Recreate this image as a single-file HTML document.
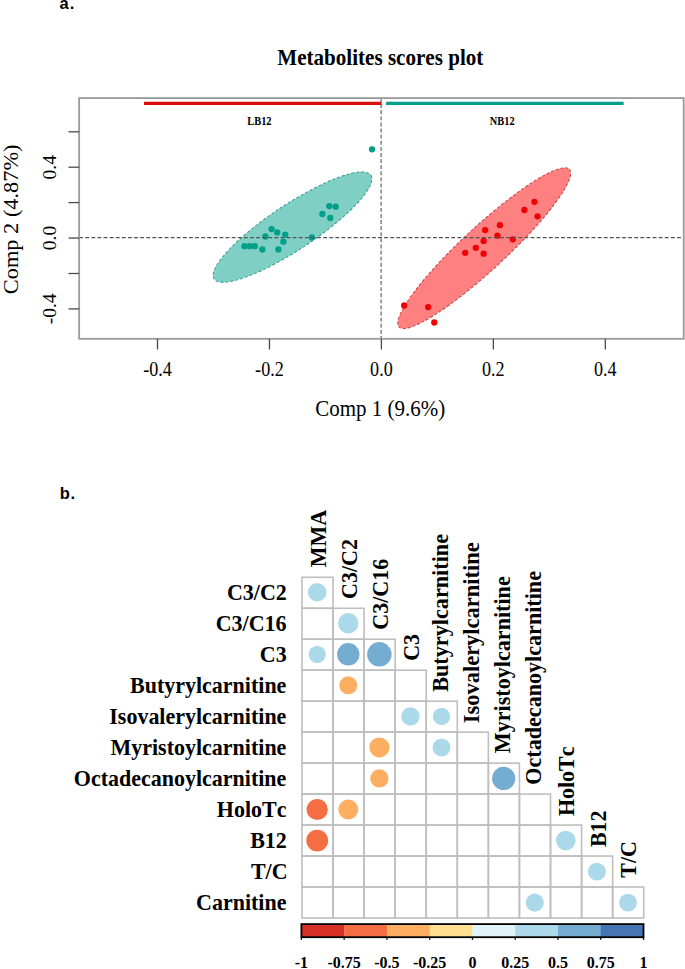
<!DOCTYPE html>
<html><head><meta charset="utf-8"><style>
html,body{margin:0;padding:0;background:#fff;}
svg{display:block;}
text{font-kerning:none;}
</style></head><body>
<svg width="685" height="969" viewBox="0 0 685 969">
<rect width="685" height="969" fill="#fff"/>
<text x="59.4" y="8.8" font-family='"Liberation Sans", sans-serif' font-weight="bold" font-size="16.5" letter-spacing="1.3">a.</text>
<text x="59.7" y="499" font-family='"Liberation Sans", sans-serif' font-weight="bold" font-size="16.5" letter-spacing="0.8">b.</text>
<text x="380.3" y="64.8" text-anchor="middle" font-family='"Liberation Serif", serif' font-weight="bold" font-size="21.1" transform="translate(0 64.8) scale(1 1.055) translate(0 -64.8)">Metabolites scores plot</text>
<ellipse cx="292.53" cy="227.12" rx="94.0" ry="22.57" transform="rotate(-33.45 292.53 227.12)" fill="#80CFC4" stroke="#2F9C8A" stroke-width="1" stroke-dasharray="3 2"/>
<ellipse cx="484.2" cy="248.18" rx="116.04" ry="21.58" transform="rotate(-42.77 484.2 248.18)" fill="#FF8080" stroke="#CC3E3E" stroke-width="1" stroke-dasharray="3 2"/>
<circle cx="372.03" cy="149.3" r="3.15" fill="#009F89"/>
<circle cx="329.3" cy="206.1" r="3.15" fill="#009F89"/>
<circle cx="335.7" cy="206.7" r="3.15" fill="#009F89"/>
<circle cx="322.4" cy="214" r="3.15" fill="#009F89"/>
<circle cx="330.3" cy="218" r="3.15" fill="#009F89"/>
<circle cx="271.6" cy="229.1" r="3.15" fill="#009F89"/>
<circle cx="277.2" cy="232.4" r="3.15" fill="#009F89"/>
<circle cx="285.2" cy="234.6" r="3.15" fill="#009F89"/>
<circle cx="265.4" cy="236.5" r="3.15" fill="#009F89"/>
<circle cx="311.9" cy="237.4" r="3.15" fill="#009F89"/>
<circle cx="283.4" cy="241.7" r="3.15" fill="#009F89"/>
<circle cx="244.5" cy="246.2" r="3.15" fill="#009F89"/>
<circle cx="249.7" cy="246.2" r="3.15" fill="#009F89"/>
<circle cx="254.8" cy="246.2" r="3.15" fill="#009F89"/>
<circle cx="262.4" cy="249.5" r="3.15" fill="#009F89"/>
<circle cx="278.4" cy="249.4" r="3.15" fill="#009F89"/>
<circle cx="534.5" cy="201.8" r="3.15" fill="#F00000"/>
<circle cx="524.4" cy="210" r="3.15" fill="#F00000"/>
<circle cx="537.5" cy="216.3" r="3.15" fill="#F00000"/>
<circle cx="499.9" cy="225.2" r="3.15" fill="#F00000"/>
<circle cx="485.2" cy="230.1" r="3.15" fill="#F00000"/>
<circle cx="497.4" cy="235.7" r="3.15" fill="#F00000"/>
<circle cx="512.8" cy="239.3" r="3.15" fill="#F00000"/>
<circle cx="483.6" cy="240.9" r="3.15" fill="#F00000"/>
<circle cx="475.8" cy="247.8" r="3.15" fill="#F00000"/>
<circle cx="465.2" cy="252.8" r="3.15" fill="#F00000"/>
<circle cx="483.6" cy="253.7" r="3.15" fill="#F00000"/>
<circle cx="404.2" cy="305.5" r="3.15" fill="#F00000"/>
<circle cx="428.2" cy="307.1" r="3.15" fill="#F00000"/>
<circle cx="434.3" cy="322.5" r="3.15" fill="#F00000"/>
<line x1="79.15" y1="237.6" x2="683.7" y2="237.6" stroke="#555" stroke-width="1.1" stroke-dasharray="3.9 2.2"/>
<line x1="381.1" y1="98.1" x2="381.1" y2="338.8" stroke="#555" stroke-width="1.1" stroke-dasharray="3.9 2.2"/>
<line x1="144" y1="103.4" x2="381.5" y2="103.4" stroke="#DD0C0C" stroke-width="3.4"/>
<line x1="386.1" y1="103.4" x2="623.6" y2="103.4" stroke="#009F89" stroke-width="3.4"/>
<text x="0" y="0" text-anchor="middle" font-family='"Liberation Serif", serif' font-weight="bold" font-size="10.6" transform="translate(259.4 124.8) scale(0.98 1.12)">LB12</text>
<text x="0" y="0" text-anchor="middle" font-family='"Liberation Serif", serif' font-weight="bold" font-size="10.6" transform="translate(502.2 124.8) scale(0.98 1.12)">NB12</text>
<rect x="79.15" y="98.1" width="604.5500000000001" height="240.70000000000002" fill="none" stroke="#9a9a9a" stroke-width="1.8"/>
<line x1="68.5" y1="131.8" x2="79.15" y2="131.8" stroke="#4a4a4a" stroke-width="1.3"/>
<line x1="68.5" y1="167.2" x2="79.15" y2="167.2" stroke="#4a4a4a" stroke-width="1.3"/>
<line x1="68.5" y1="202.6" x2="79.15" y2="202.6" stroke="#4a4a4a" stroke-width="1.3"/>
<line x1="68.5" y1="238.05" x2="79.15" y2="238.05" stroke="#4a4a4a" stroke-width="1.3"/>
<line x1="68.5" y1="273.5" x2="79.15" y2="273.5" stroke="#4a4a4a" stroke-width="1.3"/>
<line x1="68.5" y1="308.9" x2="79.15" y2="308.9" stroke="#4a4a4a" stroke-width="1.3"/>
<line x1="157.5" y1="338.8" x2="157.5" y2="349.5" stroke="#4a4a4a" stroke-width="1.3"/>
<line x1="269.45" y1="338.8" x2="269.45" y2="349.5" stroke="#4a4a4a" stroke-width="1.3"/>
<line x1="381.4" y1="338.8" x2="381.4" y2="349.5" stroke="#4a4a4a" stroke-width="1.3"/>
<line x1="493.35" y1="338.8" x2="493.35" y2="349.5" stroke="#4a4a4a" stroke-width="1.3"/>
<line x1="605.3" y1="338.8" x2="605.3" y2="349.5" stroke="#4a4a4a" stroke-width="1.3"/>
<text x="0" y="0" text-anchor="middle" font-family='"Liberation Serif", serif' font-size="18.3" transform="translate(157.5 375.8) scale(0.99 1.13)">-0.4</text>
<text x="0" y="0" text-anchor="middle" font-family='"Liberation Serif", serif' font-size="18.3" transform="translate(269.45 375.8) scale(0.99 1.13)">-0.2</text>
<text x="0" y="0" text-anchor="middle" font-family='"Liberation Serif", serif' font-size="18.3" transform="translate(381.4 375.8) scale(0.99 1.13)">0.0</text>
<text x="0" y="0" text-anchor="middle" font-family='"Liberation Serif", serif' font-size="18.3" transform="translate(493.35 375.8) scale(0.99 1.13)">0.2</text>
<text x="0" y="0" text-anchor="middle" font-family='"Liberation Serif", serif' font-size="18.3" transform="translate(605.3 375.8) scale(0.99 1.13)">0.4</text>
<text x="0" y="0" text-anchor="middle" font-family='"Liberation Serif", serif' font-size="18.3" transform="translate(56.0 167.2) scale(1 1.065) rotate(-90)">0.4</text>
<text x="0" y="0" text-anchor="middle" font-family='"Liberation Serif", serif' font-size="18.3" transform="translate(56.0 238.05) scale(1 1.065) rotate(-90)">0.0</text>
<text x="0" y="0" text-anchor="middle" font-family='"Liberation Serif", serif' font-size="18.3" transform="translate(56.0 308.9) scale(1 1.065) rotate(-90)">-0.4</text>
<text x="380.3" y="0" text-anchor="middle" font-family='"Liberation Serif", serif' font-size="21" transform="translate(0 416.3) scale(1 1.065)">Comp 1 (9.6%)</text>
<text x="0" y="0" text-anchor="middle" font-family='"Liberation Serif", serif' font-size="21" transform="translate(17.8 219.3) scale(1 1.065) rotate(-90)">Comp 2 (4.87%)</text>
<g fill="none" stroke="#BEBEBE" stroke-width="1.6"><rect x="301.95" y="577.30" width="31.07" height="30.97"/><rect x="301.95" y="608.27" width="31.07" height="30.97"/><rect x="333.02" y="608.27" width="31.07" height="30.97"/><rect x="301.95" y="639.24" width="31.07" height="30.97"/><rect x="333.02" y="639.24" width="31.07" height="30.97"/><rect x="364.09" y="639.24" width="31.07" height="30.97"/><rect x="301.95" y="670.21" width="31.07" height="30.97"/><rect x="333.02" y="670.21" width="31.07" height="30.97"/><rect x="364.09" y="670.21" width="31.07" height="30.97"/><rect x="395.16" y="670.21" width="31.07" height="30.97"/><rect x="301.95" y="701.18" width="31.07" height="30.97"/><rect x="333.02" y="701.18" width="31.07" height="30.97"/><rect x="364.09" y="701.18" width="31.07" height="30.97"/><rect x="395.16" y="701.18" width="31.07" height="30.97"/><rect x="426.23" y="701.18" width="31.07" height="30.97"/><rect x="301.95" y="732.15" width="31.07" height="30.97"/><rect x="333.02" y="732.15" width="31.07" height="30.97"/><rect x="364.09" y="732.15" width="31.07" height="30.97"/><rect x="395.16" y="732.15" width="31.07" height="30.97"/><rect x="426.23" y="732.15" width="31.07" height="30.97"/><rect x="457.30" y="732.15" width="31.07" height="30.97"/><rect x="301.95" y="763.12" width="31.07" height="30.97"/><rect x="333.02" y="763.12" width="31.07" height="30.97"/><rect x="364.09" y="763.12" width="31.07" height="30.97"/><rect x="395.16" y="763.12" width="31.07" height="30.97"/><rect x="426.23" y="763.12" width="31.07" height="30.97"/><rect x="457.30" y="763.12" width="31.07" height="30.97"/><rect x="488.37" y="763.12" width="31.07" height="30.97"/><rect x="301.95" y="794.09" width="31.07" height="30.97"/><rect x="333.02" y="794.09" width="31.07" height="30.97"/><rect x="364.09" y="794.09" width="31.07" height="30.97"/><rect x="395.16" y="794.09" width="31.07" height="30.97"/><rect x="426.23" y="794.09" width="31.07" height="30.97"/><rect x="457.30" y="794.09" width="31.07" height="30.97"/><rect x="488.37" y="794.09" width="31.07" height="30.97"/><rect x="519.44" y="794.09" width="31.07" height="30.97"/><rect x="301.95" y="825.06" width="31.07" height="30.97"/><rect x="333.02" y="825.06" width="31.07" height="30.97"/><rect x="364.09" y="825.06" width="31.07" height="30.97"/><rect x="395.16" y="825.06" width="31.07" height="30.97"/><rect x="426.23" y="825.06" width="31.07" height="30.97"/><rect x="457.30" y="825.06" width="31.07" height="30.97"/><rect x="488.37" y="825.06" width="31.07" height="30.97"/><rect x="519.44" y="825.06" width="31.07" height="30.97"/><rect x="550.51" y="825.06" width="31.07" height="30.97"/><rect x="301.95" y="856.03" width="31.07" height="30.97"/><rect x="333.02" y="856.03" width="31.07" height="30.97"/><rect x="364.09" y="856.03" width="31.07" height="30.97"/><rect x="395.16" y="856.03" width="31.07" height="30.97"/><rect x="426.23" y="856.03" width="31.07" height="30.97"/><rect x="457.30" y="856.03" width="31.07" height="30.97"/><rect x="488.37" y="856.03" width="31.07" height="30.97"/><rect x="519.44" y="856.03" width="31.07" height="30.97"/><rect x="550.51" y="856.03" width="31.07" height="30.97"/><rect x="581.58" y="856.03" width="31.07" height="30.97"/><rect x="301.95" y="887.00" width="31.07" height="30.97"/><rect x="333.02" y="887.00" width="31.07" height="30.97"/><rect x="364.09" y="887.00" width="31.07" height="30.97"/><rect x="395.16" y="887.00" width="31.07" height="30.97"/><rect x="426.23" y="887.00" width="31.07" height="30.97"/><rect x="457.30" y="887.00" width="31.07" height="30.97"/><rect x="488.37" y="887.00" width="31.07" height="30.97"/><rect x="519.44" y="887.00" width="31.07" height="30.97"/><rect x="550.51" y="887.00" width="31.07" height="30.97"/><rect x="581.58" y="887.00" width="31.07" height="30.97"/><rect x="612.65" y="887.00" width="31.07" height="30.97"/></g>
<circle cx="317.20" cy="592.23" r="9.25" fill="#ABD9E9"/>
<circle cx="348.28" cy="623.27" r="10.20" fill="#ABD9E9"/>
<circle cx="317.20" cy="654.31" r="8.60" fill="#ABD9E9"/>
<circle cx="348.28" cy="654.31" r="11.20" fill="#74ADD1"/>
<circle cx="379.36" cy="654.31" r="12.25" fill="#74ADD1"/>
<circle cx="348.28" cy="685.35" r="9.00" fill="#FDAE61"/>
<circle cx="410.44" cy="716.39" r="9.20" fill="#ABD9E9"/>
<circle cx="441.52" cy="716.39" r="8.65" fill="#ABD9E9"/>
<circle cx="379.36" cy="747.43" r="10.05" fill="#FDAE61"/>
<circle cx="441.52" cy="747.43" r="8.95" fill="#ABD9E9"/>
<circle cx="379.36" cy="778.47" r="9.15" fill="#FDAE61"/>
<circle cx="503.68" cy="778.47" r="11.60" fill="#74ADD1"/>
<circle cx="317.20" cy="809.51" r="10.60" fill="#F46D43"/>
<circle cx="348.28" cy="809.51" r="10.00" fill="#FDAE61"/>
<circle cx="317.20" cy="840.55" r="10.90" fill="#F46D43"/>
<circle cx="565.84" cy="840.55" r="9.85" fill="#ABD9E9"/>
<circle cx="596.92" cy="871.59" r="8.95" fill="#ABD9E9"/>
<circle cx="534.76" cy="902.63" r="9.05" fill="#ABD9E9"/>
<circle cx="628.00" cy="902.63" r="8.95" fill="#ABD9E9"/>
<text x="0" y="0" font-family='"Liberation Serif", serif' font-weight="bold" font-size="22.0" transform="translate(226.96 599.53) scale(1 1.06)">C3/C2</text>
<text x="0" y="0" font-family='"Liberation Serif", serif' font-weight="bold" font-size="22.0" transform="translate(215.66 630.57) scale(1 1.06)">C3/C16</text>
<text x="0" y="0" font-family='"Liberation Serif", serif' font-weight="bold" font-size="22.0" transform="translate(259.76 661.61) scale(1 1.06)">C3</text>
<text x="0" y="0" font-family='"Liberation Serif", serif' font-weight="bold" font-size="22.0" transform="translate(130.04 692.65) scale(1 1.06)">Butyrylcarnitine</text>
<text x="0" y="0" font-family='"Liberation Serif", serif' font-weight="bold" font-size="22.0" transform="translate(109.28 723.68) scale(1 1.06)">Isovalerylcarnitine</text>
<text x="0" y="0" font-family='"Liberation Serif", serif' font-weight="bold" font-size="22.0" transform="translate(110.51 754.72) scale(1 1.06)">Myristoylcarnitine</text>
<text x="0" y="0" font-family='"Liberation Serif", serif' font-weight="bold" font-size="22.0" transform="translate(73.84 785.76) scale(1 1.06)">Octadecanoylcarnitine</text>
<text x="0" y="0" font-family='"Liberation Serif", serif' font-weight="bold" font-size="22.0" transform="translate(216.78 816.79) scale(1 1.06)">HoloTc</text>
<text x="0" y="0" font-family='"Liberation Serif", serif' font-weight="bold" font-size="22.0" transform="translate(250.17 847.83) scale(1 1.06)">B12</text>
<text x="0" y="0" font-family='"Liberation Serif", serif' font-weight="bold" font-size="22.0" transform="translate(250.90 878.87) scale(1 1.06)">T/C</text>
<text x="0" y="0" font-family='"Liberation Serif", serif' font-weight="bold" font-size="22.0" transform="translate(196.03 909.90) scale(1 1.06)">Carnitine</text>
<text x="0" y="0" font-family='"Liberation Serif", serif' font-weight="bold" font-size="22.0" transform="translate(325.82 567.23) rotate(-90) scale(1.0 1.06)">MMA</text>
<text x="0" y="0" font-family='"Liberation Serif", serif' font-weight="bold" font-size="22.0" transform="translate(356.54 598.97) rotate(-90) scale(1.0 1.06)">C3/C2</text>
<text x="0" y="0" font-family='"Liberation Serif", serif' font-weight="bold" font-size="22.0" transform="translate(387.76 629.67) rotate(-90) scale(1.0 1.06)">C3/C16</text>
<text x="0" y="0" font-family='"Liberation Serif", serif' font-weight="bold" font-size="22.0" transform="translate(419.03 660.77) rotate(-90) scale(1.0 1.06)">C3</text>
<text x="0" y="0" font-family='"Liberation Serif", serif' font-weight="bold" font-size="22.0" transform="translate(447.55 691.87) rotate(-90) scale(1.01 1.06)">Butyrylcarnitine</text>
<text x="0" y="0" font-family='"Liberation Serif", serif' font-weight="bold" font-size="22.0" transform="translate(478.87 723.26) rotate(-90) scale(1.022 1.06)">Isovalerylcarnitine</text>
<text x="0" y="0" font-family='"Liberation Serif", serif' font-weight="bold" font-size="22.0" transform="translate(510.04 753.18) rotate(-90) scale(1.006 1.06)">Myristoylcarnitine</text>
<text x="0" y="0" font-family='"Liberation Serif", serif' font-weight="bold" font-size="22.0" transform="translate(540.91 784.68) rotate(-90) scale(1.005 1.06)">Octadecanoylcarnitine</text>
<text x="0" y="0" font-family='"Liberation Serif", serif' font-weight="bold" font-size="22.0" transform="translate(574.08 816.08) rotate(-90) scale(1.0 1.06)">HoloTc</text>
<text x="0" y="0" font-family='"Liberation Serif", serif' font-weight="bold" font-size="22.0" transform="translate(605.75 847.07) rotate(-90) scale(1.0 1.06)">B12</text>
<text x="0" y="0" font-family='"Liberation Serif", serif' font-weight="bold" font-size="22.0" transform="translate(636.22 877.74) rotate(-90) scale(1.0 1.06)">T/C</text>
<rect x="301.40" y="924.1" width="43.06" height="13.100000000000023" fill="#D73027"/>
<rect x="344.16" y="924.1" width="43.06" height="13.100000000000023" fill="#F46D43"/>
<rect x="386.92" y="924.1" width="43.06" height="13.100000000000023" fill="#FDAE61"/>
<rect x="429.69" y="924.1" width="43.06" height="13.100000000000023" fill="#FEE090"/>
<rect x="472.45" y="924.1" width="43.06" height="13.100000000000023" fill="#E0F3F8"/>
<rect x="515.21" y="924.1" width="43.06" height="13.100000000000023" fill="#ABD9E9"/>
<rect x="557.98" y="924.1" width="43.06" height="13.100000000000023" fill="#74ADD1"/>
<rect x="600.74" y="924.1" width="43.06" height="13.100000000000023" fill="#4575B4"/>
<rect x="301.4" y="924.1" width="342.1" height="13.100000000000023" fill="none" stroke="#000" stroke-width="1.8"/>
<line x1="301.40" y1="937.2" x2="301.40" y2="939.8" stroke="#000" stroke-width="1.3"/>
<text x="301.40" y="968.3" text-anchor="middle" font-family='"Liberation Serif", serif' font-weight="bold" font-size="16">-1</text>
<line x1="344.16" y1="937.2" x2="344.16" y2="939.8" stroke="#000" stroke-width="1.3"/>
<text x="344.16" y="968.3" text-anchor="middle" font-family='"Liberation Serif", serif' font-weight="bold" font-size="16">-0.75</text>
<line x1="386.92" y1="937.2" x2="386.92" y2="939.8" stroke="#000" stroke-width="1.3"/>
<text x="386.92" y="968.3" text-anchor="middle" font-family='"Liberation Serif", serif' font-weight="bold" font-size="16">-0.5</text>
<line x1="429.69" y1="937.2" x2="429.69" y2="939.8" stroke="#000" stroke-width="1.3"/>
<text x="429.69" y="968.3" text-anchor="middle" font-family='"Liberation Serif", serif' font-weight="bold" font-size="16">-0.25</text>
<line x1="472.45" y1="937.2" x2="472.45" y2="939.8" stroke="#000" stroke-width="1.3"/>
<text x="472.45" y="968.3" text-anchor="middle" font-family='"Liberation Serif", serif' font-weight="bold" font-size="16">0</text>
<line x1="515.21" y1="937.2" x2="515.21" y2="939.8" stroke="#000" stroke-width="1.3"/>
<text x="515.21" y="968.3" text-anchor="middle" font-family='"Liberation Serif", serif' font-weight="bold" font-size="16">0.25</text>
<line x1="557.98" y1="937.2" x2="557.98" y2="939.8" stroke="#000" stroke-width="1.3"/>
<text x="557.98" y="968.3" text-anchor="middle" font-family='"Liberation Serif", serif' font-weight="bold" font-size="16">0.5</text>
<line x1="600.74" y1="937.2" x2="600.74" y2="939.8" stroke="#000" stroke-width="1.3"/>
<text x="600.74" y="968.3" text-anchor="middle" font-family='"Liberation Serif", serif' font-weight="bold" font-size="16">0.75</text>
<line x1="643.50" y1="937.2" x2="643.50" y2="939.8" stroke="#000" stroke-width="1.3"/>
<text x="643.50" y="968.3" text-anchor="middle" font-family='"Liberation Serif", serif' font-weight="bold" font-size="16">1</text>
</svg>
</body></html>
